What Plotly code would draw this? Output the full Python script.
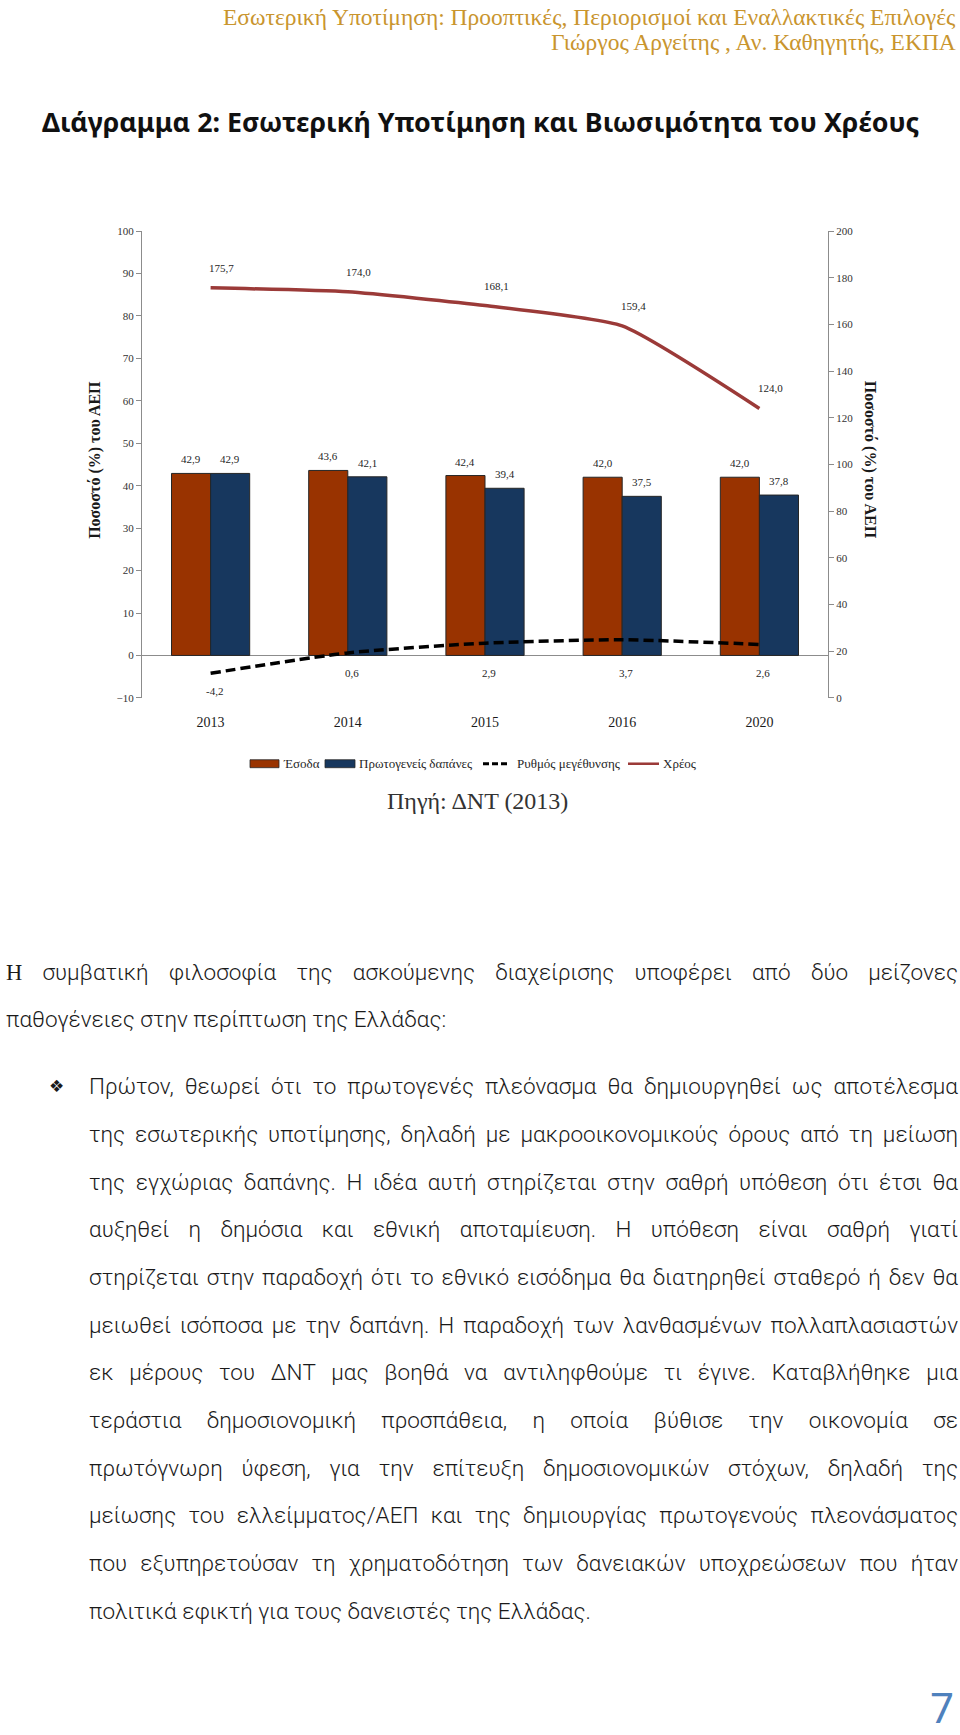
import json
import plotly.graph_objects as go

# ---------------- data ----------------
years = ["2013", "2014", "2015", "2016", "2020"]
revenue = [42.9, 43.6, 42.4, 42.0, 42.0]          # Έσοδα (left axis)
primary_spending = [42.9, 42.1, 39.4, 37.5, 37.8]  # Πρωτογενείς δαπάνες (left axis)
growth = [-4.2, 0.6, 2.9, 3.7, 2.6]                # Ρυθμός μεγέθυνσης (left axis)
debt = [175.7, 174.0, 168.1, 159.4, 124.0]         # Χρέος (right axis)

series_names = ["Έσοδα", "Πρωτογενείς δαπάνες", "Ρυθμός μεγέθυνσης", "Χρέος"]
left_ticks = [-10, 0, 10, 20, 30, 40, 50, 60, 70, 80, 90, 100]
right_ticks = [0, 20, 40, 60, 80, 100, 120, 140, 160, 180, 200]
axis_title = "Ποσοστό (%) του ΑΕΠ"

header_lines = [
    "Εσωτερική Υποτίμηση: Προοπτικές, Περιορισμοί και Εναλλακτικές Επιλογές",
    "Γιώργος Αργείτης , Αν. Καθηγητής, ΕΚΠΑ",
]
chart_title = "Διάγραμμα 2: Εσωτερική Υποτίμηση και Βιωσιμότητα του Χρέους"
source_text = "Πηγή: ΔΝΤ (2013)"
para1_lines = [
    "συμβατική φιλοσοφία της ασκούμενης διαχείρισης υποφέρει από δύο μείζονες",
    "παθογένειες στην περίπτωση της Ελλάδας:",
]
bullet_lines = [
    "Πρώτον, θεωρεί ότι το πρωτογενές πλεόνασμα θα δημιουργηθεί ως αποτέλεσμα",
    "της εσωτερικής υποτίμησης, δηλαδή με μακροοικονομικούς όρους από τη μείωση",
    "της εγχώριας δαπάνης. Η ιδέα αυτή στηρίζεται στην σαθρή υπόθεση ότι έτσι θα",
    "αυξηθεί η δημόσια και εθνική αποταμίευση. Η υπόθεση είναι σαθρή γιατί",
    "στηρίζεται στην παραδοχή ότι το εθνικό εισόδημα θα διατηρηθεί σταθερό ή δεν θα",
    "μειωθεί ισόποσα με την δαπάνη. Η παραδοχή των λανθασμένων πολλαπλασιαστών",
    "εκ μέρους του ΔΝΤ μας βοηθά να αντιληφθούμε τι έγινε. Καταβλήθηκε μια",
    "τεράστια δημοσιονομική προσπάθεια, η οποία βύθισε την οικονομία σε",
    "πρωτόγνωρη ύφεση, για την επίτευξη δημοσιονομικών στόχων, δηλαδή της",
    "μείωσης του ελλείμματος/ΑΕΠ και της δημιουργίας πρωτογενούς πλεονάσματος",
    "που εξυπηρετούσαν τη χρηματοδότηση των δανειακών υποχρεώσεων που ήταν",
    "πολιτικά εφικτή για τους δανειστές της Ελλάδας.",
]
page_number = "7"

# ---------------- styling ----------------
W, H = 960, 1735
SERIF = "Liberation Serif, Times New Roman, serif"
SANS = "Roboto, Noto Sans, sans-serif"
C_REV = "#993300"
C_SPEND = "#17375E"
C_DEBT = "#9B3A38"
C_AX = "#8c8c8c"
GOLD = "#C9952E"
LBL = dict(family=SERIF, size=11, color="#262626")

def P(x, y):
    return x / W, 1 - y / H

def fmt(v):
    return f"{v:.1f}".replace(".", ",")

plot_x0, plot_x1 = 142, 828
plot_y_top, plot_y_bot = 226.7, 696.7
BARGAP = 0.43
# half-distance between the centres of the two bars in a group (pixels)
cat_w = (plot_x1 - plot_x0) / len(years)
bar_off = cat_w * (1 - BARGAP) / 4

fig = go.Figure()
fig.add_trace(go.Bar(
    x=years, y=revenue, name=series_names[0], showlegend=False,
    marker=dict(color=C_REV, line=dict(color="#262626", width=1)),
))
fig.add_trace(go.Bar(
    x=years, y=primary_spending, name=series_names[1], showlegend=False,
    marker=dict(color=C_SPEND, line=dict(color="#262626", width=1)),
))
fig.add_trace(go.Scatter(
    x=years, y=growth, name=series_names[2], mode="lines", showlegend=False,
    line=dict(color="black", width=3.5, dash="10px,5px", shape="spline", smoothing=0.6),
    cliponaxis=False,
))
fig.add_trace(go.Scatter(
    x=years, y=debt, name=series_names[3], mode="lines", yaxis="y2", showlegend=False,
    line=dict(color=C_DEBT, width=3.5, shape="spline", smoothing=0.5),
    cliponaxis=False,
))

ann = []
shapes = []
# header
hx, hy = P(958, 11)
ann.append(dict(x=hx, y=hy, text=header_lines[0], xanchor="right", yanchor="middle",
                font=dict(family=SERIF, size=23.5, color=GOLD)))
hx, hy = P(958, 36)
ann.append(dict(x=hx, y=hy, text=header_lines[1], xanchor="right", yanchor="middle",
                font=dict(family=SERIF, size=23.5, color=GOLD)))
# chart title
tx, ty = P(40, 116)
ann.append(dict(x=tx, y=ty, text="<b>" + chart_title + "</b>", xanchor="left", yanchor="middle",
                font=dict(family="Noto Sans, sans-serif", size=26.8, color="#111111")))
# axis titles
ax1, ay1 = P(95, 457)
ann.append(dict(x=ax1, y=ay1, text="<b>" + axis_title + "</b>", textangle=-90,
                xanchor="center", yanchor="middle", font=dict(family=SERIF, size=16, color="#1a1a1a")))
ax2, ay2 = P(870, 457)
ann.append(dict(x=ax2, y=ay2, text="<b>" + axis_title + "</b>", textangle=90,
                xanchor="center", yanchor="middle", font=dict(family=SERIF, size=16, color="#1a1a1a")))
# bar value labels
for i, (r, s) in enumerate(zip(revenue, primary_spending)):
    ann.append(dict(x=i, y=r, xref="x", yref="y", text=fmt(r), xshift=-bar_off, yshift=14, font=LBL))
    ann.append(dict(x=i, y=s, xref="x", yref="y", text=fmt(s), xshift=bar_off, yshift=14, font=LBL))
# debt labels (category index positions)
for i, v in enumerate(debt):
    ann.append(dict(x=i, y=v, xref="x", yref="y2", text=fmt(v), xshift=11, yshift=20, font=LBL))
# growth labels
for i, v in enumerate(growth):
    ann.append(dict(x=i, y=min(v, 0), xref="x", yref="y", text=fmt(v), xshift=4, yshift=-18, font=LBL))

# custom legend
LEG_Y = 763
legend_items = [
    ("rect", C_REV, 250, 279, 281),
    ("rect", C_SPEND, 325, 355, 357),
    ("dash", "black", 483, 510, 515),
    ("line", C_DEBT, 628, 659, 661),
]
for (kind, col, x0, x1, xt), name in zip(legend_items, series_names):
    if kind == "rect":
        shapes.append(dict(type="rect", xref="paper", yref="paper",
                           x0=x0 / W, x1=x1 / W, y0=1 - (LEG_Y + 4) / H, y1=1 - (LEG_Y - 4) / H,
                           fillcolor=col, line=dict(color="#262626", width=0.8)))
    else:
        shapes.append(dict(type="line", xref="paper", yref="paper",
                           x0=x0 / W, x1=x1 / W, y0=1 - LEG_Y / H, y1=1 - LEG_Y / H,
                           line=dict(color=col, width=3 if kind == "dash" else 2.5,
                                     dash="6px,3px" if kind == "dash" else "solid")))
    lx, ly = P(xt, LEG_Y)
    ann.append(dict(x=lx, y=ly, text=name, xanchor="left", yanchor="middle",
                    font=dict(family=SERIF, size=13, color="#262626")))

# source
sx, sy = P(477, 801)
ann.append(dict(x=sx, y=sy, text=source_text, xanchor="center", yanchor="middle",
                font=dict(family=SERIF, size=24, color="#333333")))

justify = []
BODY = dict(family=SANS, size=22.5, color="#1a1a1a", weight=300)
LINE_H = 48.0
# paragraph 1
for i, line in enumerate(para1_lines):
    x, y = P(5, 973 + i * 47)
    txt = ('<span style="font-family:Liberation Serif">Η</span> ' + line) if i == 0 else line
    ann.append(dict(x=x, y=y, text=txt, xanchor="left", yanchor="middle", align="left",
                    borderpad=0, font=BODY))
    if i < len(para1_lines) - 1:
        justify.append([len(ann) - 1, 957 - 5])
# bullet
bx, by = P(56, 1088)
ann.append(dict(x=bx, y=by, text="❖", xanchor="center", yanchor="middle",
                font=dict(family="DejaVu Sans", size=17, color="#1a1a1a")))
for i, line in enumerate(bullet_lines):
    x, y = P(88, 1088 + i * LINE_H)
    ann.append(dict(x=x, y=y, text=line, xanchor="left", yanchor="middle", align="left",
                    borderpad=0, font=BODY))
    if i < len(bullet_lines) - 1:
        justify.append([len(ann) - 1, 957 - 88])
# page number
px_, py_ = P(956, 1712)
ann.append(dict(x=px_, y=py_, text=page_number, xanchor="right", yanchor="middle",
                font=dict(family="Noto Sans, sans-serif", size=42, color="#4F81BD")))

for a in ann:
    a.setdefault("xref", "paper")
    a.setdefault("yref", "paper")
    a.setdefault("showarrow", False)

y_dom = [1 - plot_y_bot / H, 1 - plot_y_top / H]
fig.update_layout(
    width=W, height=H, margin=dict(l=0, r=0, t=0, b=0),
    paper_bgcolor="white", plot_bgcolor="white",
    barmode="group", bargap=BARGAP, bargroupgap=0,
    showlegend=False,
    xaxis=dict(domain=[plot_x0 / W, plot_x1 / W], type="category", range=[-0.5, 4.5],
               showline=False, ticks="", showgrid=False, zeroline=False, ticklabelstandoff=14,
               tickfont=dict(family=SERIF, size=14, color="#1a1a1a"), autorange=False),
    yaxis=dict(domain=y_dom, range=[-10, 100], tickvals=left_ticks, showgrid=False,
               showline=True, linecolor=C_AX, linewidth=1, ticks="outside", ticklen=5,
               tickcolor=C_AX, zeroline=True, zerolinecolor=C_AX, zerolinewidth=1,
               tickfont=dict(family=SERIF, size=11, color="#333333"), autorange=False),
    yaxis2=dict(range=[0, 200], tickvals=right_ticks, overlaying="y", side="right",
                anchor="x", showgrid=False, showline=True, linecolor=C_AX, linewidth=1,
                ticks="outside", ticklen=5, tickcolor=C_AX, zeroline=False,
                tickfont=dict(family=SERIF, size=11, color="#333333"), autorange=False),
    annotations=ann,
    shapes=shapes,
)

js = """
document.documentElement.style.margin = '0';
document.body.style.margin = '0';
document.body.style.overflow = 'hidden';
var gd = document.getElementById('{plot_id}');
var JUST = %s;
function justifyLines(){
  JUST.forEach(function(t){
    var g = gd.querySelector('g.annotation[data-index="' + t[0] + '"]');
    if(!g) return;
    var txt = g.querySelector('text.annotation-text');
    if(!txt) return;
    txt.style.wordSpacing = '0px';
    var w = txt.getComputedTextLength();
    var s = (txt.textContent.match(/ /g) || []).length;
    if(s > 0){ txt.style.wordSpacing = ((t[1] - w) / s) + 'px'; }
  });
}
justifyLines();
gd.on('plotly_afterplot', justifyLines);
""" % json.dumps(justify)

fig.write_html("out.html", post_script=js, config={"displayModeBar": False, "staticPlot": True})
